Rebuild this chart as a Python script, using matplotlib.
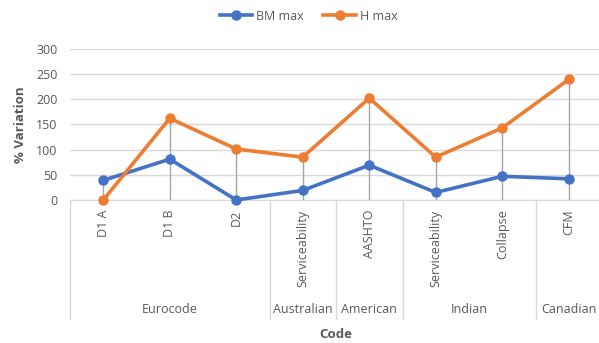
import matplotlib.pyplot as plt
import matplotlib.transforms as mtransforms

# % variation of BM max and H max for each design code
codes = ['D1 A', 'D1 B', 'D2', 'Serviceability', 'AASHTO',
         'Serviceability', 'Collapse', 'CFM']
groups = ['Eurocode', 'Australian', 'American', 'Indian', 'Canadian']
group_sizes = [3, 1, 1, 2, 1]
bm_max = [39, 81, 0, 19, 69, 15, 47, 42]
h_max = [0, 162, 101, 85, 202, 85, 143, 239]

blue = '#4472C4'
orange = '#ED7D31'
txt = '#595959'
grid = '#D9D9D9'

plt.rcParams['font.family'] = ['Open Sans', 'DejaVu Sans']

fig = plt.figure(figsize=(5.99, 3.43), dpi=100)
ax = fig.add_axes([70/599, 143/343, 532/599, 151.3/343])

x = list(range(len(codes)))

# grey drop lines from the highest point of each category
for i in x:
    ax.plot([i, i], [0, max(bm_max[i], h_max[i])], color='#A5A5A5', lw=1, zorder=1)

ax.plot(x, bm_max, color=blue, lw=2.6, marker='o', ms=6.5, label='BM max',
        zorder=3, clip_on=False)
ax.plot(x, h_max, color=orange, lw=2.6, marker='o', ms=6.5, label='H max',
        zorder=4, clip_on=False)

ax.set_xlim(-0.5, len(codes) - 0.5)
ax.set_ylim(0, 300)
ax.set_yticks([0, 50, 100, 150, 200, 250, 300])
ax.yaxis.grid(True, color=grid, lw=1)
ax.set_axisbelow(True)
for s in ['top', 'right', 'left']:
    ax.spines[s].set_visible(False)
ax.spines['bottom'].set_color(grid)
ax.tick_params(axis='y', length=0, pad=9, labelsize=9, labelcolor=txt)

ax.set_xticks(x)
ax.set_xticklabels(codes, rotation=90, fontsize=9, color=txt)
ax.tick_params(axis='x', length=0, pad=7)

# group separators and group labels below the category labels
trans = mtransforms.blended_transform_factory(ax.transData, ax.transAxes)
edge = -0.5
ax.plot([edge, edge], [0, -0.787], transform=trans, color=grid, lw=1, clip_on=False)
for g, n in zip(groups, group_sizes):
    ax.text(edge + n / 2, -0.725, g, transform=trans, ha='center', va='center',
            fontsize=9, color=txt)
    edge += n
    ax.plot([edge, edge], [0, -0.787], transform=trans, color=grid, lw=1, clip_on=False)

ax.set_ylabel('% Variation', fontsize=9.5, fontweight='bold', color=txt)
ax.yaxis.set_label_coords(-0.08, 0.5)
ax.text(0.5, -0.89, 'Code', transform=ax.transAxes, ha='center', va='center',
        fontsize=9.5, fontweight='bold', color=txt)

fig.legend(loc='center', bbox_to_anchor=(0.515, 0.953), ncol=2, frameon=False,
           fontsize=9, labelcolor=txt, handlelength=2.6, columnspacing=1.6,
           handletextpad=0.3)

fig.savefig('out.png', dpi=100)
